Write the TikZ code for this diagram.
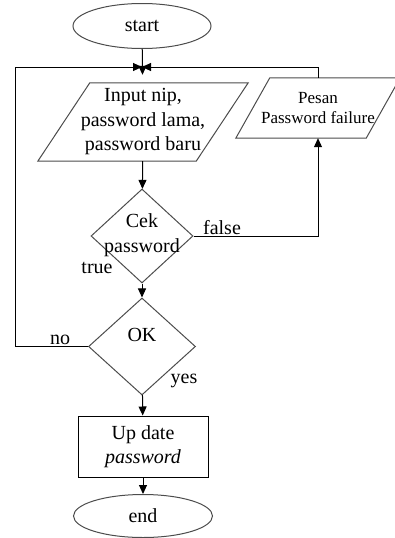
\documentclass[tikz,border=0pt]{standalone}
\usepackage{fontspec}
\setmainfont{Liberation Serif}
\usetikzlibrary{shapes.geometric,arrows.meta}

\tikzset{
  outline/.style={draw=black!70, line width=1pt},
  conn/.style={draw=black, line width=1pt},
  arr/.style={conn, -{Triangle[length=9pt,width=8pt]}},
  txt/.style={font=\fontsize{20}{24.5}\selectfont, align=center, inner sep=0pt},
  smalltxt/.style={font=\fontsize{17}{20}\selectfont, align=center, inner sep=0pt},
  term/.style={outline, ellipse, inner sep=0pt, minimum width=138pt, minimum height=45pt, txt},
  decision/.style={outline, diamond, inner sep=0pt},
  iobox/.style={inner sep=0pt, txt},
  procbox/.style={draw=black, line width=1pt, inner sep=0pt, txt, minimum width=130pt, minimum height=61pt},
}

\begin{document}
\begin{tikzpicture}[x=1pt,y=-1pt]
  \useasboundingbox (0,0) rectangle (395,538);

  % terminals
  \node[term] (start) at (142,26) {start};
  \node[term, minimum width=139pt, minimum height=43pt] (end) at (143,516) {end};

  % input parallelogram
  \node[iobox, minimum width=158pt, minimum height=78pt] (input) at (143,122)
    {Input nip,\\password lama,\\password baru};
  \draw[outline] ([xshift=26pt]input.north west) -- ([xshift=26pt]input.north east)
    -- ([xshift=-26pt]input.south east) -- ([xshift=-26pt]input.south west) -- cycle;

  % failure message parallelogram
  \node[iobox, smalltxt, minimum width=130pt, minimum height=60pt] (pesan) at (318,108)
    {Pesan\\Password failure};
  \draw[outline] ([xshift=17pt]pesan.north west) -- ([xshift=17pt]pesan.north east)
    -- ([xshift=-17pt]pesan.south east) -- ([xshift=-17pt]pesan.south west) -- cycle;

  % decisions
  \node[decision, minimum width=102pt, minimum height=94pt] (cek) at (142,236) {};
  \node[txt] (cektext) at (142,235) {Cek\\password};
  \node[decision, minimum width=107pt, minimum height=97pt] (ok) at (142,346.5) {};
  \node[txt] (oktext) at (142,335) {OK};

  % update process
  \node[procbox] (update) at (143,446.5) {Up date\\\textit{password}};

  % merge point above the input
  \coordinate (j) at (142,67);

  % connectors
  \draw[arr, shorten >=8pt] (start) -- (input);
  \draw[arr] (input) -- (cek);
  \draw[arr] (cek) -- (ok);
  \draw[arr] (ok) -- (update);
  \draw[arr] (update) -- (end);
  \draw[arr] (cek.east) -| (pesan.south);
  \draw[arr] (pesan.north) |- (j);
  \draw[arr] (ok.west) -- ++(-73,0) |- (j);

  % branch labels
  \node[txt] (lfalse) at (222,228) {false};
  \node[txt] (ltrue) at (97,268) {true};
  \node[txt] (lno) at (60,340) {no};
  \node[txt] (lyes) at (184,381) {yes};
\end{tikzpicture}
\end{document}
